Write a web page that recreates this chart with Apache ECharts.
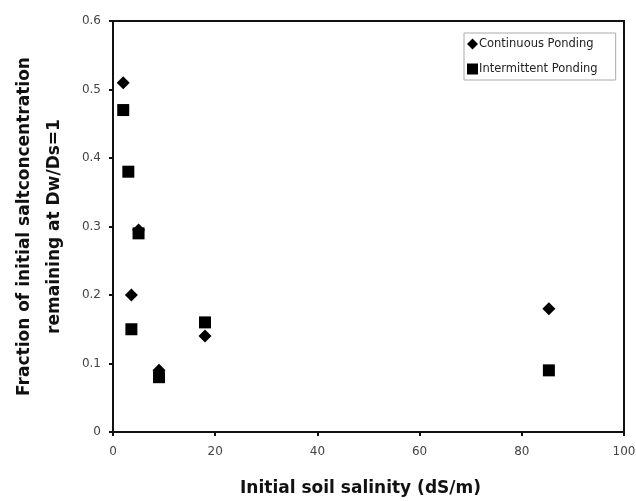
<!DOCTYPE html>
<html><head><meta charset="utf-8">
<script src="https://cdn.jsdelivr.net/npm/echarts@6/dist/echarts.min.js"></script>
<style>html,body{margin:0;padding:0;background:#fff}#c{width:636px;height:501px}</style>
</head><body><div id="c"></div>
<script>
var seriesNames = ['Continuous Ponding', 'Intermittent Ponding'];
var continuousX = [2, 5, 3.6, 9, 18, 85.3];
var continuousY = [0.51, 0.295, 0.20, 0.09, 0.14, 0.18];
var intermittentX = [2, 3, 5, 3.6, 9, 18, 85.3];
var intermittentY = [0.47, 0.38, 0.29, 0.15, 0.08, 0.16, 0.09];
var xTicks = [0, 20, 40, 60, 80, 100];
var yTicks = [0, 0.1, 0.2, 0.3, 0.4, 0.5, 0.6];

function pairs(xs, ys) { return xs.map(function (x, i) { return [x, ys[i]]; }); }

var chart = echarts.init(document.getElementById('c'));
var font = 'DejaVu Sans, Verdana, sans-serif';
chart.setOption({
  animation: false,
  backgroundColor: '#fff',
  grid: { left: 113, right: 12, top: 21, bottom: 69, show: true, borderColor: '#111', borderWidth: 2,
    backgroundColor: 'transparent', containLabel: false, outerBoundsMode: 'none' },
  legend: {
    orient: 'vertical', left: 464, top: 33,
    data: [{ name: seriesNames[0], icon: 'diamond' }, { name: seriesNames[1], icon: 'rect' }],
    itemWidth: 11, itemHeight: 11, itemGap: 13,
    padding: [5, 18, 5, 3],
    borderColor: '#aaa', borderWidth: 1,
    textStyle: { fontFamily: font, fontSize: 11.5, color: '#222', padding: [0, 0, 0, -4] }
  },
  xAxis: {
    type: 'value', min: 0, max: 100, interval: 20,
    name: 'Initial soil salinity (dS/m)', nameLocation: 'middle', nameGap: 48,
    nameTextStyle: { fontFamily: font, fontSize: 17, fontWeight: 'bold', color: '#111', padding: [0, 16, 0, 0] },
    axisLine: { show: true, lineStyle: { color: '#111', width: 2 } },
    axisTick: { show: true, length: 4, lineStyle: { color: '#111', width: 2 } },
    axisLabel: { fontFamily: font, fontSize: 12, color: '#444', margin: 14,
      formatter: function (v) { return xTicks.indexOf(v) >= 0 ? String(v) : ''; } },
    splitLine: { show: false }
  },
  yAxis: {
    type: 'value', min: 0, max: 0.6, interval: 0.1,
    name: 'Fraction of initial saltconcentration\nremaining at Dw/Ds=1', nameLocation: 'middle', nameGap: 43,
    nameTextStyle: { fontFamily: font, fontSize: 17, fontWeight: 'bold', color: '#111', lineHeight: 30 },
    axisLine: { show: true, lineStyle: { color: '#111', width: 2 } },
    axisTick: { show: true, length: 4, lineStyle: { color: '#111', width: 2 } },
    axisLabel: { fontFamily: font, fontSize: 12, color: '#444', margin: 12,
      formatter: function (v) { var r = Math.round(v * 10) / 10; return yTicks.indexOf(r) >= 0 ? String(r) : ''; } },
    splitLine: { show: false }
  },
  series: [
    { name: seriesNames[0], type: 'scatter', symbol: 'diamond', symbolSize: [13, 13],
      itemStyle: { color: '#000', opacity: 1 }, data: pairs(continuousX, continuousY), z: 3 },
    { name: seriesNames[1], type: 'scatter', symbol: 'rect', symbolSize: 12,
      itemStyle: { color: '#000', opacity: 1 }, data: pairs(intermittentX, intermittentY), z: 2 }
  ]
});
</script></body></html>
